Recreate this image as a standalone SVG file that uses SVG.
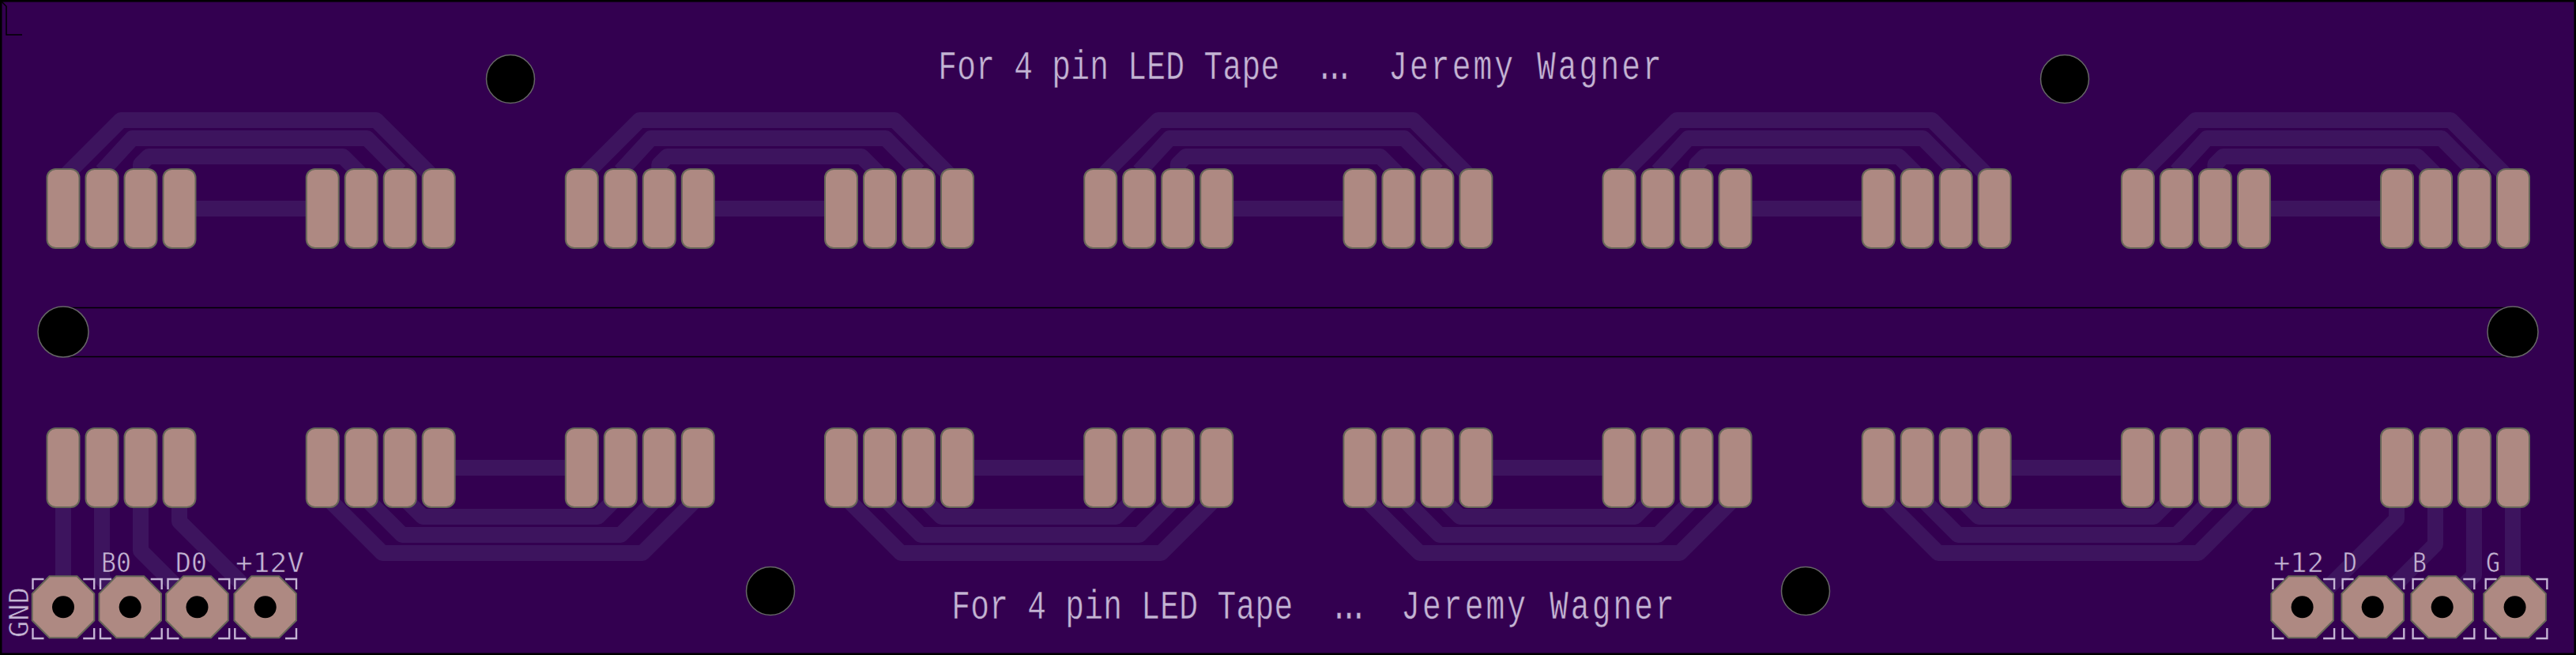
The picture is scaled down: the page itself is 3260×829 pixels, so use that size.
<svg xmlns="http://www.w3.org/2000/svg" width="3260" height="829" viewBox="0 0 3260 829">
<style>
.pad{fill:#ae8982;stroke:#666658;stroke-width:2}
.oct{fill:#ae8982;stroke:#666658;stroke-width:2}
.tr{fill:none;stroke:#3d145e;stroke-width:20;stroke-linejoin:round}
.hole{fill:#000;stroke:#666;stroke-width:1.5}
.drill{fill:#000}
.cut{fill:none;stroke:#000;stroke-width:1.5}
.brk{fill:none;stroke:#c4b4d4;stroke-width:2.4}
.t{font-family:"Liberation Mono",monospace;fill:#c4b4d4;font-size:52px;stroke:#330050;stroke-width:.5}
.dots{letter-spacing:-14.8px}
.name{letter-spacing:4.1px}
.lead{letter-spacing:.4px}
.z{font-family:"DejaVu Sans Mono",monospace;fill:#c4b4d4;font-size:33px;stroke:#330050;stroke-width:.6}
</style>
<defs>
<g id="g4">
<rect class="pad" x="-20.5" y="-50" width="41" height="100" rx="11"/>
<rect class="pad" x="28.5" y="-50" width="41" height="100" rx="11"/>
<rect class="pad" x="77.5" y="-50" width="41" height="100" rx="11"/>
<rect class="pad" x="126.5" y="-50" width="41" height="100" rx="11"/>
</g>
<path id="bridgeT" d="M80,225L153,152H476L555,231M129,217L167.5,175H464.5L506,217M178,225V208L188,198H434L457,221M240,264H395"/>
<path id="bridgeB" d="M408,624L484,700H813L884,629M457,625L509,677H785.5L835,627M506,625L535,654H756.5L786,624.500M570,592H720"/>
<polygon id="octa" class="oct" points="-17.500,-39 17.500,-39 39.300,-17 39.300,17 17.500,39 -17.500,39 -39.300,17 -39.300,-17"/>
<path id="box" class="brk" d="M0,14V1H14M63.700,1H77.700V14M0,63V76H14M63.700,76H77.700V63"/>
</defs>
<rect id="board" x="1" y="1" width="3258" height="827" fill="#330050" stroke="#000" stroke-width="3"/>
<g id="outline">
<path class="cut" d="M2,2L8,8V44H28"/>
<path class="cut" d="M80,389.500H3180M80,451.500H3180"/>
</g>
<g id="connectors">
<g class="tr">
<use href="#bridgeT"/>
<use href="#bridgeT" x="656.300"/>
<use href="#bridgeT" x="1312.700"/>
<use href="#bridgeT" x="1969"/>
<use href="#bridgeT" x="2625.400"/>
<use href="#bridgeB"/>
<use href="#bridgeB" x="656.300"/>
<use href="#bridgeB" x="1312.700"/>
<use href="#bridgeB" x="1969"/>
<path d="M80,640V768M129,640V732.600L164.700,768.300M178,640V697L249.500,768.300M227,640V660L335.700,768.500"/>
<path d="M3180,640V745L3182.600,768M3131,640V728L3090.700,768.300M3082,640V689L3002.700,768.300M3033,640V657L2922,768"/>
</g>
</g>
<g id="pads-top">
<use href="#g4" x="80" y="264"/>
<use href="#g4" x="408.200" y="264"/>
<use href="#g4" x="736.300" y="264"/>
<use href="#g4" x="1064.500" y="264"/>
<use href="#g4" x="1392.700" y="264"/>
<use href="#g4" x="1720.900" y="264"/>
<use href="#g4" x="2049" y="264"/>
<use href="#g4" x="2377.200" y="264"/>
<use href="#g4" x="2705.400" y="264"/>
<use href="#g4" x="3033.500" y="264"/>
</g>
<g id="pads-bottom">
<use href="#g4" x="80" y="592"/>
<use href="#g4" x="408.200" y="592"/>
<use href="#g4" x="736.300" y="592"/>
<use href="#g4" x="1064.500" y="592"/>
<use href="#g4" x="1392.700" y="592"/>
<use href="#g4" x="1720.900" y="592"/>
<use href="#g4" x="2049" y="592"/>
<use href="#g4" x="2377.200" y="592"/>
<use href="#g4" x="2705.400" y="592"/>
<use href="#g4" x="3033.500" y="592"/>
</g>
<g id="holes">
<circle class="hole" cx="646" cy="100" r="30.500"/>
<circle class="hole" cx="2613" cy="100" r="30.500"/>
<circle class="hole" cx="975" cy="748" r="30.500"/>
<circle class="hole" cx="2285" cy="748" r="30.500"/>
<circle class="hole" cx="80" cy="420" r="32"/>
<circle class="hole" cx="3180" cy="420" r="32"/>
</g>
<g id="headers">
<g id="h1"><use href="#box" x="41.500" y="732"/><use href="#octa" x="80" y="768.300"/><circle class="drill" cx="80" cy="768.300" r="14"/></g>
<g id="h2"><use href="#box" x="127" y="732"/><use href="#octa" x="164.700" y="768.300"/><circle class="drill" cx="164.700" cy="768.300" r="14"/></g>
<g id="h3"><use href="#box" x="212.500" y="732"/><use href="#octa" x="249.500" y="768.300"/><circle class="drill" cx="249.500" cy="768.300" r="14"/></g>
<g id="h4"><use href="#box" x="297.300" y="732"/><use href="#octa" x="335.700" y="768.300"/><circle class="drill" cx="335.700" cy="768.300" r="14"/></g>
<g id="h5"><use href="#box" x="2876.400" y="732"/><use href="#octa" x="2913.600" y="768.300"/><circle class="drill" cx="2913.600" cy="768.300" r="14"/></g>
<g id="h6"><use href="#box" x="2964.600" y="732"/><use href="#octa" x="3002.700" y="768.300"/><circle class="drill" cx="3002.700" cy="768.300" r="14"/></g>
<g id="h7"><use href="#box" x="3053.600" y="732"/><use href="#octa" x="3090.700" y="768.300"/><circle class="drill" cx="3090.700" cy="768.300" r="14"/></g>
<g id="h8"><use href="#box" x="3145.700" y="732"/><use href="#octa" x="3182.600" y="768.300"/><circle class="drill" cx="3182.600" cy="768.300" r="14"/></g>
</g>
<g id="labels">
<text class="t" transform="translate(1191,99.500) scale(.76,1)"><tspan class="lead" x="-5">For 4 pin LED Tape</tspan> <tspan class="dots" x="623">...</tspan> <tspan class="name" x="745">Jeremy Wagner</tspan></text>
<text class="t" transform="translate(1208,782.500) scale(.76,1)"><tspan class="lead" x="-5">For 4 pin LED Tape</tspan> <tspan class="dots" x="624.600">...</tspan> <tspan class="name" x="743.700">Jeremy Wagner</tspan></text>
<text class="z" x="128" y="724" textLength="38" lengthAdjust="spacingAndGlyphs">B0</text>
<text class="z" x="222" y="724" textLength="40" lengthAdjust="spacingAndGlyphs">D0</text>
<text class="z" x="298" y="724" textLength="87" lengthAdjust="spacingAndGlyphs">+12V</text>
<text class="z" transform="translate(36,807) rotate(-90)" textLength="64" lengthAdjust="spacingAndGlyphs">GND</text>
<text class="z" x="2877" y="724" textLength="64" lengthAdjust="spacingAndGlyphs">+12</text>
<text class="z" x="2965" y="724" textLength="18" lengthAdjust="spacingAndGlyphs">D</text>
<text class="z" x="3053" y="724" textLength="18" lengthAdjust="spacingAndGlyphs">B</text>
<text class="z" x="3146" y="724" textLength="18" lengthAdjust="spacingAndGlyphs">G</text>
</g>
</svg>
